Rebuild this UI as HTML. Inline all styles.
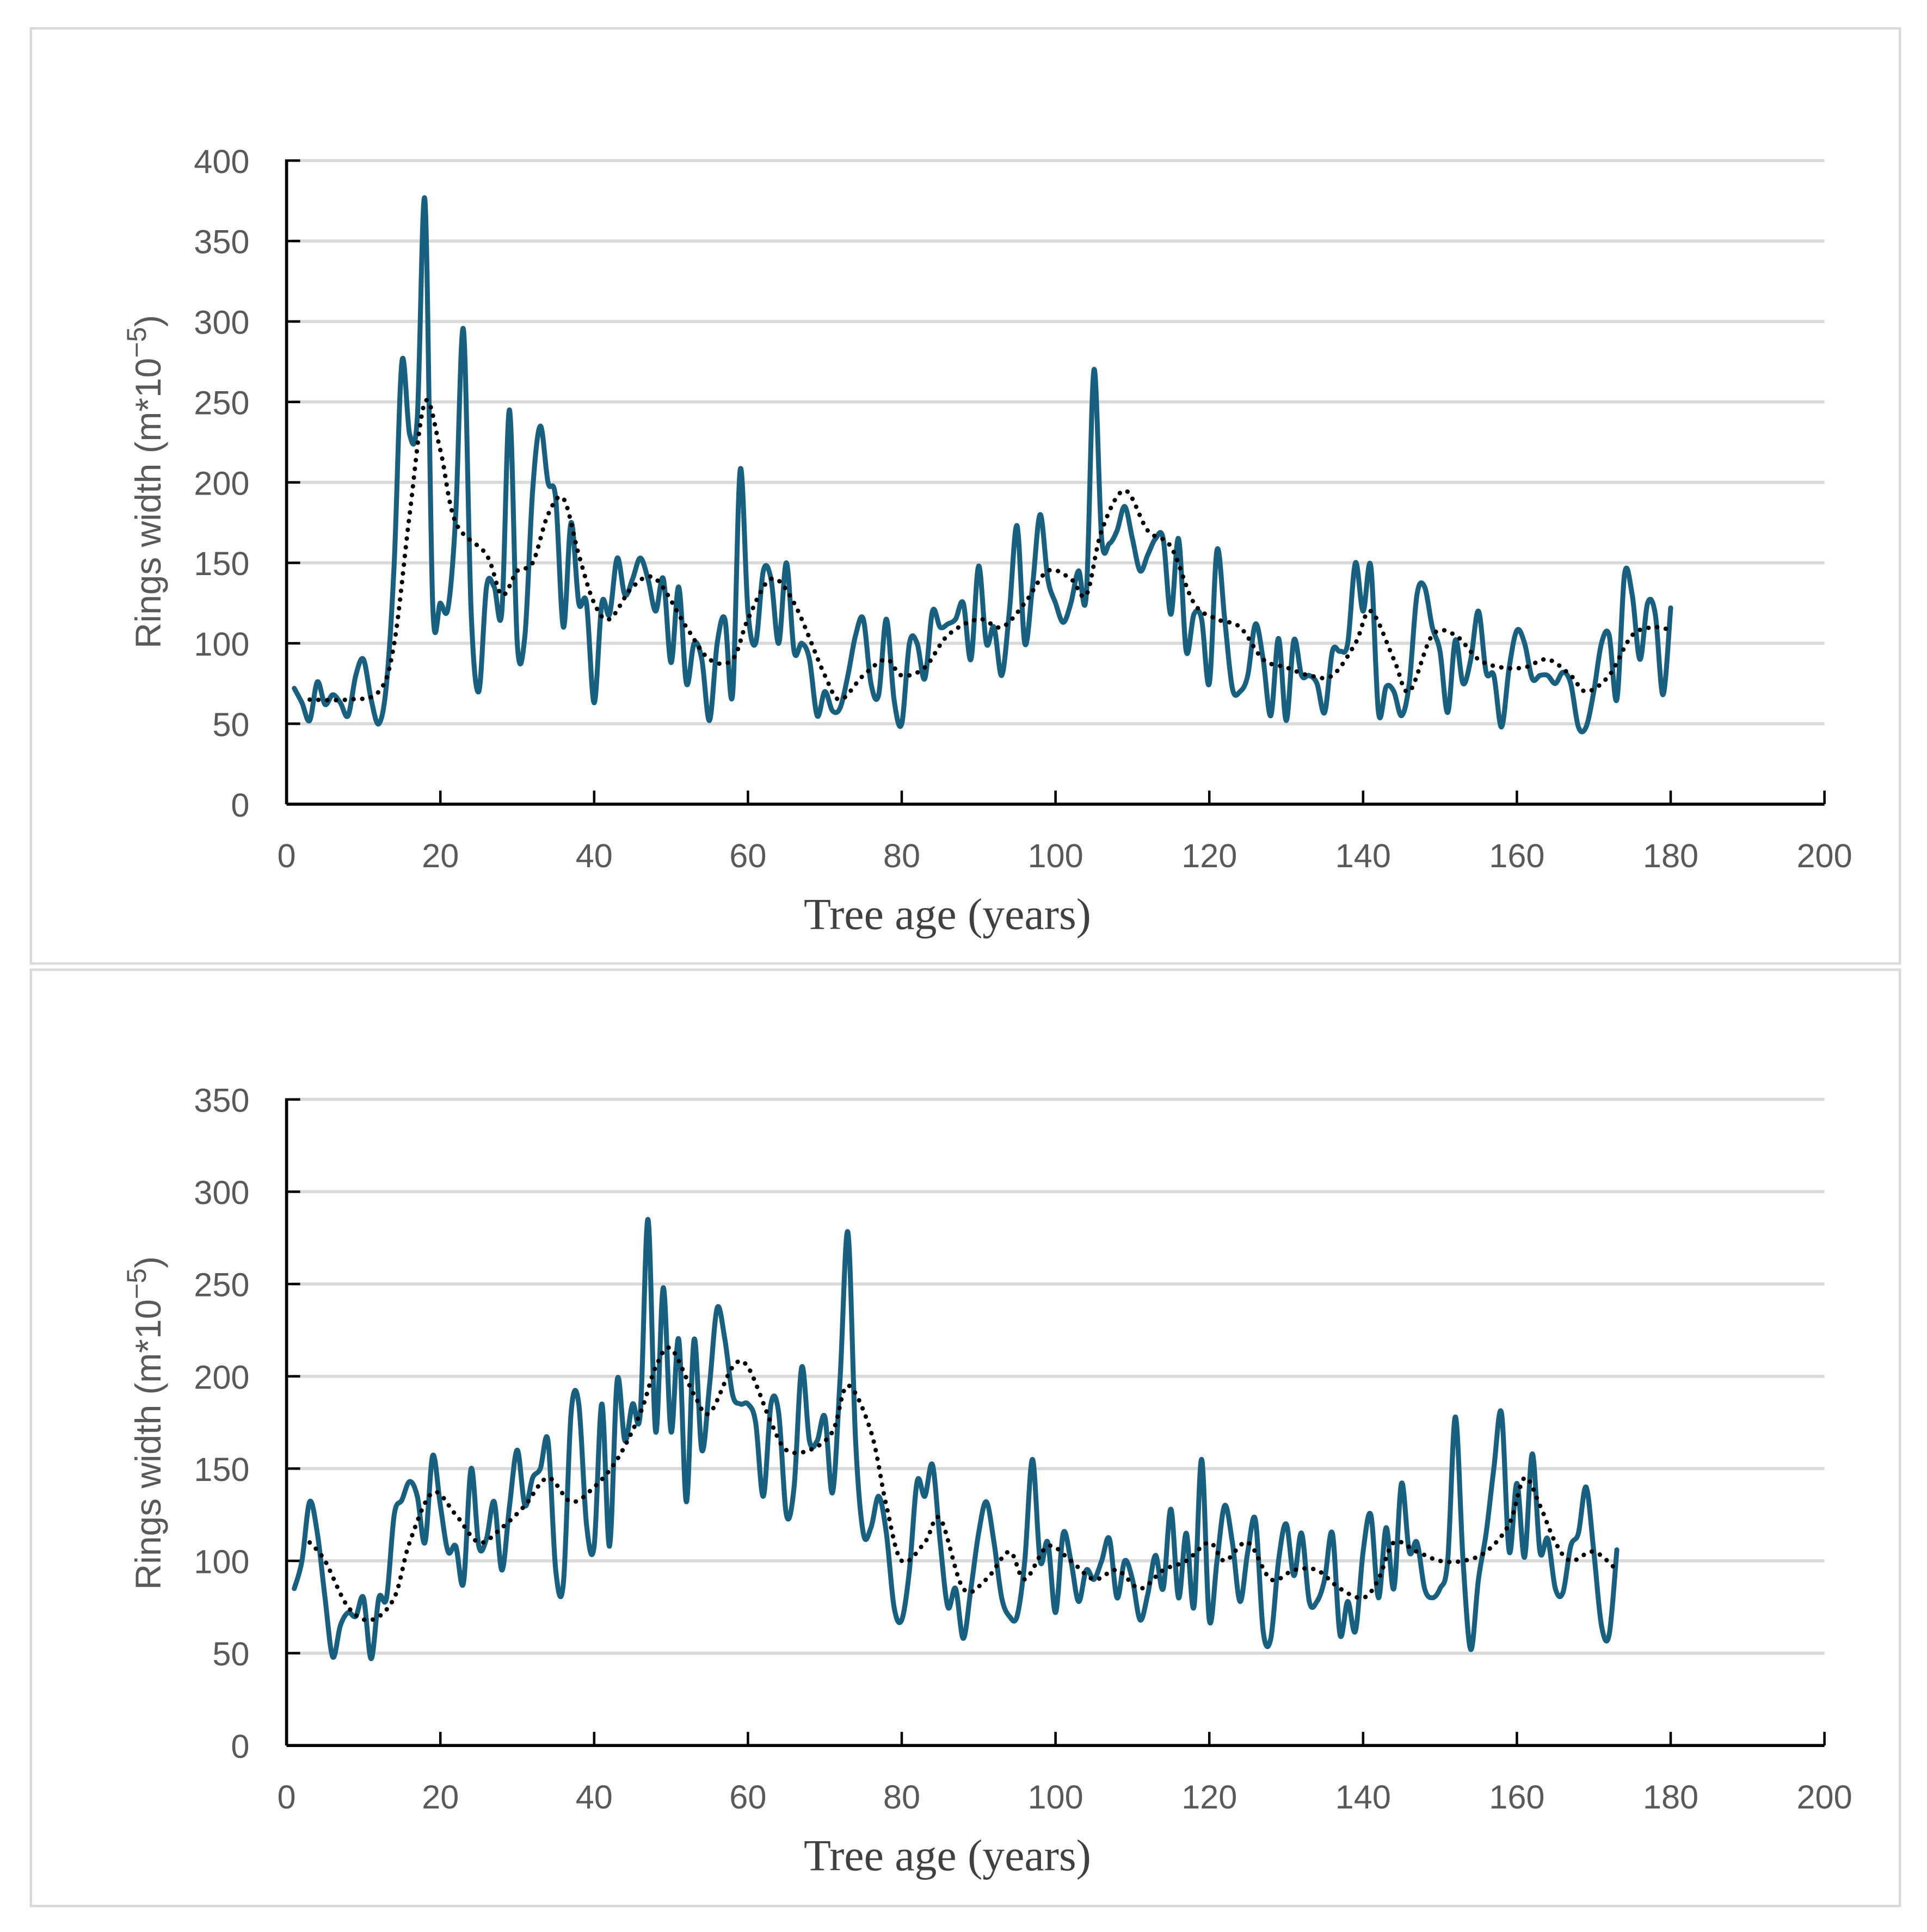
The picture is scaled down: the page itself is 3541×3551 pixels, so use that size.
<!DOCTYPE html>
<html><head><meta charset="utf-8"><style>
html,body{margin:0;padding:0;background:#fff;}
svg{display:block;}
</style></head><body>
<svg id="root" width="3541" height="3551" viewBox="0 0 1560 1564" preserveAspectRatio="none" xmlns="http://www.w3.org/2000/svg">
<rect x="0" y="0" width="1560" height="1564" fill="#fff"/>
<rect x="25" y="23" width="1513" height="757" fill="none" stroke="#d9d9d9" stroke-width="2"/>
<rect x="25" y="785" width="1513" height="758" fill="none" stroke="#d9d9d9" stroke-width="2"/>
<g id="c1"></g>
<g id="c2"></g>
</svg>
<script>
// ---- Top chart data ----
const topValues = [72,63,52,76,62,68,63,55,80,90,65,50,75,150,275,230,240,375,125,125,122,180,295,120,70,135,135,120,245,100,105,195,235,200,190,110,175,125,125,63,125,118,153,130,140,153,140,120,140,88,135,75,100,90,52,100,115,68,208,120,100,145,140,100,150,95,100,90,55,70,58,60,80,105,115,75,68,115,65,50,100,100,78,120,110,112,115,125,90,148,100,110,80,120,173,100,135,180,140,125,113,125,145,130,270,165,162,170,185,165,145,155,165,165,118,165,95,118,115,75,158,115,72,70,80,112,90,55,103,52,102,80,80,75,57,95,95,100,150,120,148,57,73,70,55,75,130,135,110,95,57,102,75,90,120,82,80,48,85,108,100,78,80,80,75,82,75,48,48,70,100,105,65,143,130,90,125,118,68,122];
const topTrendYears = [3,8,12,14,16,18,20,22,26,28,30,32,34,36,38,40,42,45,48,52,55,58,60,63,66,70,72,75,78,80,83,86,90,93,96,99,102,104,106,109,112,115,118,121,124,127,130,133,136,139,141,144,146,149,152,155,158,161,164,167,169,172,175,178,180];
const topTrendValues = [65,65,70,100,180,250,220,175,155,130,145,150,180,190,155,125,115,135,140,110,90,90,115,140,125,80,65,80,90,80,85,105,115,110,125,145,140,130,170,195,170,160,125,115,110,90,85,80,80,100,120,90,70,105,105,90,85,85,90,80,70,80,105,110,108];
const topYTicks = [0,50,100,150,200,250,300,350,400];
// ---- Bottom chart data ----
const botValues = [85,100,132,115,80,48,65,72,70,80,47,80,80,125,133,143,135,110,157,130,105,108,88,150,108,112,132,95,130,160,130,145,150,165,95,88,180,185,120,108,185,108,198,165,185,180,285,170,248,170,220,132,220,160,195,237,220,190,185,185,175,135,185,180,125,140,205,165,165,178,137,200,278,165,115,118,135,115,75,68,95,143,135,152,110,75,85,58,85,115,132,110,80,70,70,100,155,100,110,72,115,100,78,95,90,100,112,80,100,90,68,82,103,85,128,80,115,75,155,68,100,130,110,78,105,122,62,58,100,120,92,115,78,78,90,115,60,78,62,105,125,80,118,85,142,105,110,85,80,85,100,178,100,52,90,115,150,180,105,142,102,158,105,112,85,83,108,115,140,105,65,60,106];
const botTrendYears = [3,5,8,11,14,16,19,22,25,28,31,34,37,40,43,46,48,50,53,55,58,60,63,65,68,71,73,76,78,80,83,85,88,91,94,96,99,102,105,108,111,114,117,120,122,125,128,131,134,137,140,142,144,147,150,153,156,159,161,163,165,167,170,173];
const botTrendValues = [110,100,75,68,80,110,137,125,110,118,130,145,132,140,155,180,205,215,190,180,205,205,175,160,160,170,195,170,130,100,110,123,85,90,105,90,108,100,90,95,85,95,100,110,100,110,90,95,95,85,80,90,110,105,100,100,105,120,145,130,110,100,105,95];
const botYTicks = [0,50,100,150,200,250,300,350];
const xTicks = [0,20,40,60,80,100,120,140,160,180,200];

const NS = "http://www.w3.org/2000/svg";
function mk(tag, attrs, parent){const e=document.createElementNS(NS,tag);for(const k in attrs)e.setAttribute(k,attrs[k]);parent.appendChild(e);return e;}
function spline(pts){
  let d="M"+pts[0][0].toFixed(2)+","+pts[0][1].toFixed(2);
  for(let i=0;i<pts.length-1;i++){
    const p0=pts[i-1]||pts[i],p1=pts[i],p2=pts[i+1],p3=pts[i+2]||p2;
    const t=1/6;
    const c1=[p1[0]+(p2[0]-p0[0])*t,p1[1]+(p2[1]-p0[1])*t];
    const c2=[p2[0]-(p3[0]-p1[0])*t,p2[1]-(p3[1]-p1[1])*t];
    d+=" C"+c1[0].toFixed(2)+","+c1[1].toFixed(2)+" "+c2[0].toFixed(2)+","+c2[1].toFixed(2)+" "+p2[0].toFixed(2)+","+p2[1].toFixed(2);
  }
  return d;
}
function draw(g, cfg){
  const x0=232,x1=1477,yTop=cfg.yTop,yBot=cfg.yBot,yMax=cfg.yMax;
  const X=v=>x0+(v/200)*(x1-x0);
  const Y=v=>yBot-(v/yMax)*(yBot-yTop);
  cfg.yTicks.forEach(t=>{
    if(t>0){
      const gl=mk("line",{x1:x0+4,x2:x1,y1:Y(t),y2:Y(t),stroke:"#d9d9d9","stroke-width":2.5},g);
      
      
    }
    const tk=mk("line",{x1:x0,x2:x0+11,y1:Y(t),y2:Y(t),stroke:"#000","stroke-width":2},g);
    
    
    const tl=mk("text",{x:202,y:Y(t)+10,"text-anchor":"end","font-family":"Liberation Sans, sans-serif","font-size":27,fill:"#595959"},g);
    tl.textContent=t;
    
    
  });
  xTicks.forEach(t=>{
    const tk=mk("line",{x1:X(t),x2:X(t),y1:yBot,y2:yBot-11,stroke:"#000","stroke-width":2},g);
    
    
    const tl=mk("text",{x:X(t),y:yBot+51,"text-anchor":"middle","font-family":"Liberation Sans, sans-serif","font-size":27,fill:"#595959"},g);
    tl.textContent=t;
    
    
  });
  const ya=mk("line",{x1:x0,x2:x0,y1:yTop-1,y2:yBot,stroke:"#000","stroke-width":2.5},g);
  
  
  const xa=mk("line",{x1:x0,x2:x1,y1:yBot,y2:yBot,stroke:"#000","stroke-width":2.5},g);
  
  
  const pts=cfg.values.map((v,i)=>[X(i+1),Y(v)]);
  const ln=mk("path",{d:spline(pts),fill:"none",stroke:"#17607f","stroke-width":4,"stroke-linejoin":"round","stroke-linecap":"round"},g);
  
  
  const tp=cfg.trendYears.map((yr,i)=>[X(yr),Y(cfg.trendValues[i])]);
  const tr=mk("path",{d:spline(tp),fill:"none",stroke:"#000","stroke-width":3.6,"stroke-dasharray":"0.1 7","stroke-linecap":"round"},g);
  
  
  const yl=mk("text",{x:0,y:0,transform:"translate(130,"+(cfg.ylabelY)+") rotate(-90)","text-anchor":"middle","font-family":"Liberation Sans, sans-serif","font-size":29,fill:"#595959"},g);
  yl.innerHTML='Rings width (m*10<tspan dy="-12" font-size="22">−5</tspan><tspan dy="12">)</tspan>';
  
  
  const xl=mk("text",{x:767,y:yBot+101,"text-anchor":"middle","font-family":"Liberation Serif, serif","font-size":36,fill:"#404040"},g);
  xl.textContent="Tree age (years)";
  
  
}
draw(document.getElementById('c1'),{yTop:130,yBot:651,yMax:400,yTicks:topYTicks,values:topValues,trendYears:topTrendYears,trendValues:topTrendValues,ylabelY:390});
draw(document.getElementById('c2'),{yTop:890,yBot:1413,yMax:350,yTicks:botYTicks,values:botValues,trendYears:botTrendYears,trendValues:botTrendValues,ylabelY:1152});
</script>
</body></html>
